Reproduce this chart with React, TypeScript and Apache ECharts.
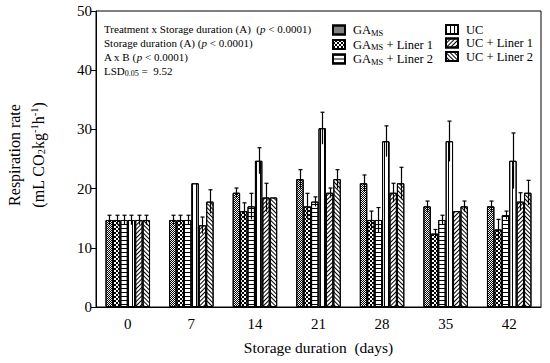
import React, { useEffect, useRef } from "react";
import * as echarts from "echarts";

const categories = ["0", "7", "14", "21", "28", "35", "42"];
const seriesNames = ["GAMS", "GAMS + Liner 1", "GAMS + Liner 2", "UC", "UC + Liner 1", "UC + Liner 2"];
const gaMs = [14.7, 14.7, 19.3, 21.6, 20.9, 17.0, 17.0];
const gaMsErr = [0.8, 0.8, 0.8, 1.6, 1.4, 0.9, 0.9];
const gaMsL1 = [14.7, 14.7, 16.2, 17.0, 14.7, 12.4, 13.1];
const gaMsL1Err = [0.8, 0.8, 1.4, 2.2, 1.5, 0.7, 1.7];
const gaMsL2 = [14.7, 14.7, 17.0, 17.8, 14.7, 14.7, 15.5];
const gaMsL2Err = [0.8, 0.8, 2.2, 0.8, 2.1, 0.8, 0.7];
const uc = [14.7, 20.9, 24.7, 30.2, 28.0, 28.0, 24.7];
const ucErr = [0.8, 0, 2.2, 2.7, 2.6, 3.4, 4.7];
const ucL1 = [14.7, 13.8, 18.5, 19.3, 19.3, 16.2, 17.8];
const ucL1Err = [0.8, 1.4, 2.4, 0.8, 1.6, 0, 1.5];
const ucL2 = [14.7, 17.8, 18.5, 21.6, 20.9, 17.0, 19.3];
const ucL2Err = [0.8, 2.0, 0, 1.6, 2.7, 0.9, 2.1];

const values = [gaMs, gaMsL1, gaMsL2, uc, ucL1, ucL2];
const errors = [gaMsErr, gaMsL1Err, gaMsL2Err, ucErr, ucL1Err, ucL2Err];

const FONT = "Liberation Serif";
const GAP = 0.3;

const decals: any[] = [
  { symbol: "rect", symbolSize: 1, color: "#000", dashArrayX: [[1, 1], [0, 1, 1, 0]], dashArrayY: [1, 0] },
  { symbol: "rect", symbolSize: 1, color: "#000", dashArrayX: [[2, 2], [0, 2, 2, 0]], dashArrayY: [2, 0] },
  { symbol: "rect", symbolSize: 1, color: "#000", dashArrayX: [1, 0], dashArrayY: [1, 2.5] },
  { symbol: "rect", symbolSize: 1, color: "#000", dashArrayX: [1, 3], dashArrayY: [1, 0] },
  { symbol: "rect", symbolSize: 1, color: "#000", dashArrayX: [1, 0], dashArrayY: [1, 2], rotation: -Math.PI / 4 },
  { symbol: "rect", symbolSize: 1, color: "#000", dashArrayX: [1, 0], dashArrayY: [1, 2], rotation: Math.PI / 4 },
];

function legendLabel(name: string) {
  if (name.startsWith("GAMS")) return "{n|GA}{s|MS}{n|" + name.slice(4) + "}";
  return "{n|" + name + "}";
}

export default function App() {
  const ref = useRef<HTMLDivElement>(null);
  useEffect(() => {
    const chart = echarts.init(ref.current!, null, { renderer: "svg" });
    const errData: any[] = [];
    values.forEach((vals, s) => {
      vals.forEach((v, c) => {
        if (errors[s][c] > 0) errData.push([c, s, v, errors[s][c]]);
      });
    });
    const legendText = {
      fontFamily: FONT,
      fontSize: 12.5,
      color: "#000",
      padding: [0, 0, 0, 3],
      rich: {
        n: { fontFamily: FONT, fontSize: 12.5, lineHeight: 13, color: "#000" },
        s: { fontFamily: FONT, fontSize: 8.5, lineHeight: 9, color: "#000", padding: [5, 0, 0, 0] },
      },
    };
    const legendBase = {
      orient: "vertical",
      top: 18,
      icon: "rect",
      itemWidth: 12,
      itemHeight: 9,
      itemGap: 0.5,
      formatter: legendLabel,
      textStyle: legendText,
      selectedMode: false,
    };
    const option: any = {
      animation: false,
      grid: { left: 96, right: 9, top: 11, bottom: 56, show: true, borderColor: "#000", borderWidth: 1 },
      legend: [
        { ...legendBase, data: seriesNames.slice(0, 3), left: 327 },
        { ...legendBase, data: seriesNames.slice(3), left: 440 },
      ],
      xAxis: {
        type: "category",
        data: categories,
        name: "Storage duration  (days)",
        nameLocation: "middle",
        nameGap: 32,
        nameTextStyle: { fontFamily: FONT, fontSize: 15.5, color: "#000" },
        axisLine: { lineStyle: { color: "#000", width: 1 } },
        axisTick: { alignWithLabel: true, length: 5, lineStyle: { color: "#000" } },
        axisLabel: { fontFamily: FONT, fontSize: 15, color: "#000", margin: 9 },
      },
      yAxis: {
        type: "value",
        min: 0,
        max: 50,
        interval: 10,
        axisLine: { show: true, lineStyle: { color: "#000", width: 1 } },
        axisTick: { show: true, length: 5, lineStyle: { color: "#000" } },
        axisLabel: { fontFamily: FONT, fontSize: 15, color: "#000", margin: 4 },
        splitLine: { show: false },
      },
      graphic: [
        {
          type: "text",
          x: 26,
          y: 155,
          rotation: Math.PI / 2,
          style: {
            text: "Respiration rate\n(mL CO{s|2}kg{p|-1}h{p|-1})",
            fontFamily: FONT,
            fontSize: 16,
            fill: "#000",
            align: "center",
            verticalAlign: "middle",
            lineHeight: 24,
            rich: {
              s: { fontFamily: FONT, fontSize: 10.5, fill: "#000", padding: [7, 0, 0, 0] },
              p: { fontFamily: FONT, fontSize: 10.5, fill: "#000", padding: [0, 0, 7, 0] },
            },
          },
        },
        {
          type: "text",
          left: 104,
          top: 22,
          style: {
            text:
              "Treatment x Storage duration (A)  ({i|p} < 0.0001)\nStorage duration (A) ({i|p} < 0.0001)\nA x B ({i|p} < 0.0001)\nLSD{s|0.05} =  9.52",
            fontFamily: FONT,
            fontSize: 11,
            fill: "#000",
            lineHeight: 14,
            rich: {
              i: { fontFamily: FONT, fontSize: 11, fontStyle: "italic", fill: "#000" },
              s: { fontFamily: FONT, fontSize: 8, fill: "#000", padding: [5, 0, 0, 0] },
            },
          },
        },
      ],
      series: [
        ...seriesNames.map((name, s) => ({
          type: "bar",
          name,
          data: values[s],
          barGap: "0%",
          barCategoryGap: GAP * 100 + "%",
          itemStyle: { color: "#fff", borderColor: "#000", borderWidth: 1, decal: decals[s] },
        })),
        {
          type: "custom",
          name: "err",
          z: 5,
          data: errData,
          encode: { x: 0, y: 2 },
          renderItem: (params: any, api: any) => {
            const c = api.value(0);
            const s = api.value(1);
            const v = api.value(2);
            const e = api.value(3);
            const band = api.size([1, 0])[0];
            const group = band * (1 - GAP);
            const bw = group / 6;
            const base = api.coord([c, v]);
            const x = Math.round(base[0] - group / 2 + (s + 0.5) * bw) + 0.5;
            const top = api.coord([c, v + e])[1];
            const bot = api.coord([c, v - e])[1];
            const style = { stroke: "#000", lineWidth: 1.2 };
            return {
              type: "group",
              children: [
                { type: "line", shape: { x1: x, y1: top, x2: x, y2: bot }, style },
                { type: "line", shape: { x1: x - 2, y1: top, x2: x + 2, y2: top }, style },
              ],
            };
          },
        },
      ],
    };
    chart.setOption(option);
    return () => chart.dispose();
  }, []);
  return <div ref={ref} style={{ position: "absolute", left: 0, top: 0, width: 550, height: 363 }} />;
}
